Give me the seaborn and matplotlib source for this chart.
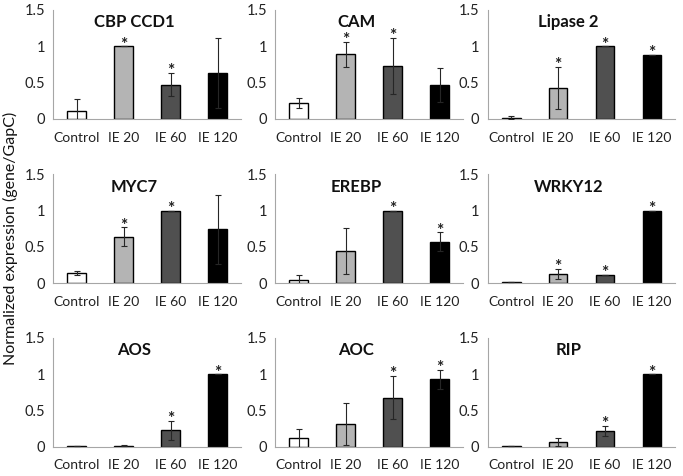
import matplotlib
matplotlib.use("Agg")
import matplotlib.pyplot as plt
import numpy as np
import pandas as pd
import seaborn as sns

conditions = ["Control", "IE 20", "IE 60", "IE 120"]
genes = ["CBP CCD1", "CAM", "Lipase 2", "MYC7", "EREBP", "WRKY12", "AOS", "AOC", "RIP"]

cbp_mean = [0.11, 1.0, 0.47, 0.63]
cbp_err = [0.16, 0.0, 0.16, 0.48]
cam_mean = [0.22, 0.89, 0.73, 0.47]
cam_err = [0.07, 0.17, 0.39, 0.23]
lip_mean = [0.02, 0.43, 1.0, 0.88]
lip_err = [0.02, 0.29, 0.0, 0.0]
myc_mean = [0.14, 0.64, 1.0, 0.74]
myc_err = [0.03, 0.13, 0.0, 0.47]
ere_mean = [0.05, 0.44, 1.0, 0.57]
ere_err = [0.06, 0.32, 0.0, 0.13]
wrk_mean = [0.01, 0.13, 0.11, 1.0]
wrk_err = [0.0, 0.07, 0.0, 0.0]
aos_mean = [0.02, 0.02, 0.23, 1.0]
aos_err = [0.0, 0.01, 0.13, 0.0]
aoc_mean = [0.12, 0.32, 0.68, 0.93]
aoc_err = [0.13, 0.29, 0.30, 0.13]
rip_mean = [0.02, 0.07, 0.22, 1.0]
rip_err = [0.0, 0.05, 0.07, 0.0]

# significance flags (asterisk above bar)
cbp_sig = [0, 1, 1, 0]
cam_sig = [0, 1, 1, 0]
lip_sig = [0, 1, 1, 1]
myc_sig = [0, 1, 1, 0]
ere_sig = [0, 0, 1, 1]
wrk_sig = [0, 1, 1, 1]
aos_sig = [0, 0, 1, 1]
aoc_sig = [0, 0, 1, 1]
rip_sig = [0, 0, 1, 1]

means = [cbp_mean, cam_mean, lip_mean, myc_mean, ere_mean, wrk_mean, aos_mean, aoc_mean, rip_mean]
errs = [cbp_err, cam_err, lip_err, myc_err, ere_err, wrk_err, aos_err, aoc_err, rip_err]
sigs = [cbp_sig, cam_sig, lip_sig, myc_sig, ere_sig, wrk_sig, aos_sig, aoc_sig, rip_sig]

rows = []
for g, m, e, s in zip(genes, means, errs, sigs):
    for c, mv, ev, sv in zip(conditions, m, e, s):
        rows.append({"gene": g, "condition": c, "mean": mv, "err": ev, "sig": sv})
df = pd.DataFrame(rows)

sns.set_style("white")
plt.rcParams["font.family"] = ["Lato", "DejaVu Sans"]

palette = dict(zip(conditions, ["#ffffff", "#b4b4b4", "#505050", "#000000"]))
spine_col = "#a6a6a6"

fig = plt.figure(figsize=(6.83, 4.76), dpi=100)
lefts = [0.078, 0.403, 0.714]
bottoms = [0.75, 0.405, 0.061]
w, h = 0.275, 0.229

for i, g in enumerate(genes):
    ax = fig.add_axes([lefts[i % 3], bottoms[i // 3], w, h])
    sub = df[df["gene"] == g]
    sns.barplot(data=sub, x="condition", y="mean", hue="condition", order=conditions,
                palette=palette, errorbar=None, width=0.4, edgecolor="black",
                linewidth=1.0, legend=False, ax=ax)
    x = np.arange(len(conditions))
    ax.errorbar(x, sub["mean"], yerr=sub["err"], fmt="none", ecolor="#262626",
                elinewidth=0.8, capsize=2.5, capthick=0.8, zorder=5)
    for xi, (mv, ev, sv) in enumerate(zip(sub["mean"], sub["err"], sub["sig"])):
        if sv:
            ax.text(xi, mv + ev - 0.045, "*", ha="center", va="baseline", fontsize=12.5,
                    fontweight="bold", color="#202020")
    ax.set_xlim(-0.5, 3.5)
    ax.set_ylim(0, 1.5)
    ax.set_yticks([0, 0.5, 1, 1.5])
    ax.set_yticklabels(["0", "0.5", "1", "1.5"])
    ax.set_xticks(x)
    ax.set_xticklabels(conditions)
    ax.set_xticks(np.arange(-0.5, 4, 1), minor=True)
    ax.tick_params(axis="x", which="major", length=0, labelsize=10, pad=9, colors="#222222")
    ax.tick_params(axis="x", which="minor", length=4, color=spine_col, direction="out")
    ax.tick_params(axis="y", which="major", length=3, color=spine_col, direction="out",
                   labelsize=10.5, pad=3, labelcolor="#222222")
    ax.set_xlabel("")
    ax.set_ylabel("")
    for side in ["top", "right"]:
        ax.spines[side].set_visible(False)
    for side in ["left", "bottom"]:
        ax.spines[side].set_color(spine_col)
        ax.spines[side].set_linewidth(0.8)
    ax.text(1.22, 1.26, g, ha="center", va="baseline", fontsize=12, fontweight="bold",
            color="#111111")

fig.text(0.016, 0.5, "Normalized expression (gene/GapC)", rotation=90,
         ha="center", va="center", fontsize=11.5, color="#111111")

fig.savefig("out.png", dpi=100)
